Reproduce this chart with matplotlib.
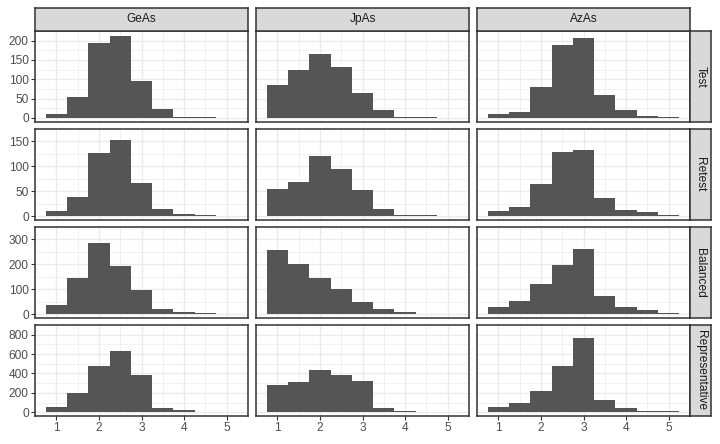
import matplotlib
matplotlib.use("Agg")
import matplotlib.pyplot as plt
import numpy as np

plt.rcParams['font.family'] = ['Liberation Sans', 'DejaVu Sans']

bin_centers = [1.0, 1.5, 2.0, 2.5, 3.0, 3.5, 4.0, 4.5, 5.0]
bin_width = 0.5
columns = ["GeAs", "JpAs", "AzAs"]
rows = ["Test", "Retest", "Balanced", "Representative"]

geas_test = [10, 54, 194, 213, 96, 22, 3, 3, 1]
geas_retest = [11, 38, 126, 152, 66, 14, 4, 2, 1]
geas_balanced = [38, 147, 287, 193, 98, 21, 9, 5, 1]
geas_repr = [59, 195, 477, 629, 384, 47, 19, 6, 3]

jpas_test = [85, 124, 165, 132, 64, 21, 3, 2, 1]
jpas_retest = [55, 69, 121, 94, 53, 14, 3, 2, 1]
jpas_balanced = [259, 201, 147, 102, 48, 23, 10, 3, 2]
jpas_repr = [285, 310, 440, 388, 322, 43, 15, 6, 6]

azas_test = [10, 16, 79, 190, 208, 60, 21, 6, 3]
azas_retest = [11, 18, 64, 128, 133, 36, 13, 8, 2]
azas_balanced = [29, 54, 123, 199, 261, 72, 31, 18, 6]
azas_repr = [59, 93, 223, 474, 766, 130, 40, 16, 9]

data = {
    ("Test", "GeAs"): geas_test, ("Retest", "GeAs"): geas_retest,
    ("Balanced", "GeAs"): geas_balanced, ("Representative", "GeAs"): geas_repr,
    ("Test", "JpAs"): jpas_test, ("Retest", "JpAs"): jpas_retest,
    ("Balanced", "JpAs"): jpas_balanced, ("Representative", "JpAs"): jpas_repr,
    ("Test", "AzAs"): azas_test, ("Retest", "AzAs"): azas_retest,
    ("Balanced", "AzAs"): azas_balanced, ("Representative", "AzAs"): azas_repr,
}
y_ticks = {
    "Test": [0, 50, 100, 150, 200],
    "Retest": [0, 50, 100, 150],
    "Balanced": [0, 100, 200, 300],
    "Representative": [0, 200, 400, 600, 800],
}
x_ticks = [1, 2, 3, 4, 5]

W, H = 720, 444
fig = plt.figure(figsize=(7.2, 4.44), dpi=100)
fig.patch.set_facecolor("white")

col_x = [35, 256, 477]
pw = 213
row_top = [31, 129, 227, 325]
ph = 91
border = "#333333"
grid_c = "#ebebeb"
bar_c = "#555555"
fs = 8.6

def fx(px):
    return px / W

def fy(py):
    return 1 - py / H

lo = min(bin_centers) - bin_width / 2
hi = max(bin_centers) + bin_width / 2
xpad = (hi - lo) * 0.05

for ri, rname in enumerate(rows):
    M = max(max(data[(rname, c)]) for c in columns)
    for ci, cname in enumerate(columns):
        ax = fig.add_axes([fx(col_x[ci]), fy(row_top[ri] + ph), pw / W, ph / H])
        ax.set_facecolor("white")
        ax.set_xlim(lo - xpad, hi + xpad)
        ax.set_ylim(-0.05 * M, 1.05 * M)
        yt = y_ticks[rname]
        step = yt[1] - yt[0]
        ax.set_yticks(yt)
        ax.set_yticks([t + step / 2 for t in yt], minor=True)
        ax.set_xticks(x_ticks)
        ax.set_xticks([0.5, 1.5, 2.5, 3.5, 4.5, 5.5], minor=True)
        ax.grid(True, which="major", color=grid_c, linewidth=1.0, zorder=0)
        ax.grid(True, which="minor", color=grid_c, linewidth=0.5, zorder=0)
        ax.set_axisbelow(True)
        ax.bar(bin_centers, data[(rname, cname)], width=bin_width, color=bar_c,
               linewidth=0, zorder=2)
        for s in ax.spines.values():
            s.set_color(border)
            s.set_linewidth(1.1)
        ax.tick_params(which="minor", length=0)
        ax.tick_params(which="major", length=2.75, width=0.8, color=border,
                       labelsize=fs, labelcolor="#4d4d4d", pad=1.8)
        if ci != 0:
            ax.tick_params(axis="y", which="major", length=0, labelleft=False)
        if ri != len(rows) - 1:
            ax.tick_params(axis="x", which="major", length=0, labelbottom=False)

        if ri == 0:
            sax = fig.add_axes([fx(col_x[ci]), fy(row_top[0]), pw / W, 23 / H])
            sax.set_xticks([]); sax.set_yticks([])
            sax.set_facecolor("#d9d9d9")
            for s in sax.spines.values():
                s.set_color(border); s.set_linewidth(1.1)
            sax.text(0.5, 0.5, cname, ha="center", va="center", fontsize=fs,
                     color="#1a1a1a", transform=sax.transAxes)
    rax = fig.add_axes([fx(col_x[2] + pw), fy(row_top[ri] + ph), 21 / W, ph / H])
    rax.set_xticks([]); rax.set_yticks([])
    rax.set_facecolor("#d9d9d9")
    for s in rax.spines.values():
        s.set_color(border); s.set_linewidth(1.1)
    rax.text(0.5, 0.5, rname, ha="center", va="center", fontsize=fs, rotation=-90,
             color="#1a1a1a", transform=rax.transAxes)

fig.savefig("out.png", dpi=100, facecolor="white")
